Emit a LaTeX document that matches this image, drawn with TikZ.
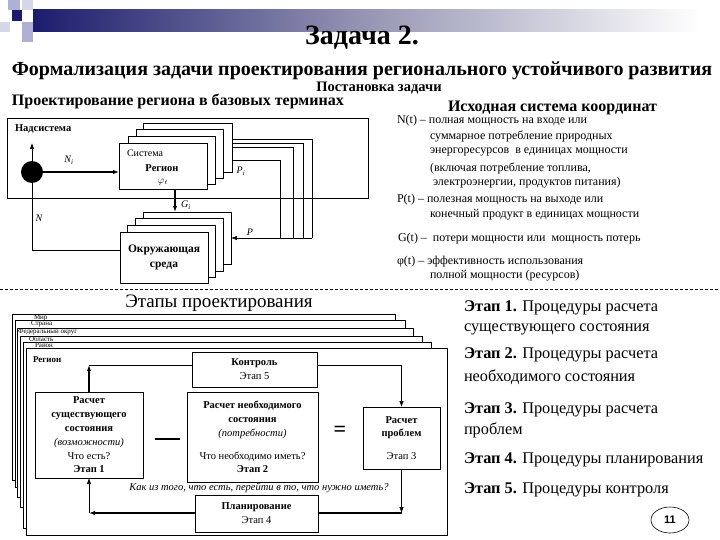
\documentclass[tikz,border=0pt]{standalone}
\usepackage{fontspec}
\setmainfont{Liberation Serif}
\newfontfamily\sansfont{Liberation Sans}
\usetikzlibrary{arrows.meta,calc,shapes.geometric}
\definecolor{navy}{RGB}{28,28,110}
\definecolor{lav}{RGB}{176,176,212}
\definecolor{lavlight}{RGB}{214,214,234}
\begin{document}
\begin{tikzpicture}[x=1pt,y=-1pt,
  every node/.style={inner sep=0pt, outer sep=0pt},
  frame/.style={draw, line width=0.6pt},
  layer/.style={draw, fill=white, line width=0.6pt},
  sbox/.style={draw, fill=white, line width=0.7pt, align=center},
  arrthick/.style={-{Latex[length=6pt,width=4.5pt]}, line width=1.4pt},
  arrthin/.style={-{Latex[length=6pt,width=4.5pt]}, line width=0.6pt},
  thinln/.style={line width=0.6pt},
  thickln/.style={line width=1.4pt},
  legend/.style={anchor=west, font=\fontsize{12}{13}\selectfont},
  etap/.style={anchor=west, font=\fontsize{16.3}{18}\selectfont},
  boxtxt/.style={font=\fontsize{10.5}{13.8}\selectfont},
  lvl/.style={anchor=west, font=\fontsize{7}{8}\selectfont}]
\useasboundingbox (0,0) rectangle (720,540);

% header decoration
\fill[lav] (8,0) rectangle (20,10);
\fill[lavlight] (22,0) rectangle (33,10);
\fill[lavlight] (0,22) rectangle (10,32);
\fill[lav] (22,22) rectangle (33,42);
\fill[navy] (12,10) rectangle (22,21);
\shade[left color=navy, right color=white, middle color={rgb,255:red,150;green,150;blue,180}] (33,10) rectangle (700,32);

% titles
\node (t1) at (362,38) {\fontsize{28}{30}\selectfont\bfseries Задача 2.};
\node (t2) at (362,71) {\fontsize{20}{22}\selectfont\bfseries Формализация задачи проектирования регионального устойчивого развития};
\node (t3) at (379,88) {\fontsize{14.5}{16}\selectfont\bfseries Постановка задачи};
\node[anchor=west] (t4) at (12,101) {\fontsize{16}{18}\selectfont\bfseries Проектирование региона в базовых терминах};
\node[anchor=west] (t5) at (448,108) {\fontsize{16}{18}\selectfont\bfseries Исходная система координат};

% upper diagram
\node[frame, minimum width=361, minimum height=80, anchor=north west] (nad) at (7,118) {};
\node[anchor=west] (nadl) at (15,129) {\fontsize{10.5}{12}\selectfont\bfseries Надсистема};

% feedback lines P
\coordinate (pA) at (312,238);
\draw[thinln] (232,139) -| (pA);
\draw[thinln] (232,143) -| (303,238);
\draw[thinln] (232,147) -| (293,238);
\draw[thinln] (223,160) -| (280,238);

% system stack
\node[layer, minimum width=89, minimum height=49, anchor=north west] (sys4) at (143,123) {};
\node[layer, minimum width=87, minimum height=49, anchor=north west] (sys3) at (136,129) {};
\node[layer, minimum width=87, minimum height=48, anchor=north west] (sys2) at (128,136) {};
\node[layer, minimum width=88, minimum height=46, anchor=north west] (sys) at (119,143) {};
\node[anchor=west] (sysl1) at (127,153) {\fontsize{10}{12}\selectfont Система};
\node (sysl2) at (162,168) {\fontsize{10.5}{12}\selectfont\bfseries Регион};
\node (sysl3) at (163,182) {$\varphi_t$};
\node (pil) at (241,171) {\itshape P\textsubscript{i}};

% environment stack
\node[layer, minimum width=88, minimum height=52, anchor=north west] (env4) at (143,212) {};
\node[layer, minimum width=88, minimum height=53, anchor=north west] (env3) at (135,218) {};
\node[layer, minimum width=88, minimum height=52, anchor=north west] (env2) at (127,225) {};
\node[layer, minimum width=88, minimum height=51, anchor=north west, align=center, font=\fontsize{11.5}{15}\selectfont\bfseries] (env) at (120,232) {Окружающая\\среда};

% source and arrows
\node[circle, fill=black, minimum size=22] (src) at (32,172) {};
\coordinate (upN) at (32,143);
\draw[arrthin] (src.north) -- (upN);
\draw[arrthick] (src.east) -- (sys.west |- src);
\node (nil) at (69,160) {\itshape N\textsubscript{i}};
\coordinate (nc) at (32,250);
\draw[thinln] (src.south) -- (nc) -- (env.west |- nc);
\node (nl) at (39,218) {\itshape N};
\coordinate (gtop) at (175,212);
\draw[arrthick] (sys.south -| gtop) -- (gtop);
\node (gl) at (186,205) {\itshape G\textsubscript{i}};
\draw[arrthin] (pA) -- (env4.east |- pA);
\node (pl) at (250,232) {\itshape P};

% legend
\node[legend] (lg1) at (397,121) {N(t) – полная мощность на входе или};
\node[legend] (lg2) at (430,137) {суммарное потребление природных};
\node[legend] (lg3) at (430,152) {энергоресурсов \ в единицах мощности};
\node[legend] (lg4) at (430,168) {(включая потребление топлива,};
\node[legend] (lg5) at (433,183) {электроэнергии, продуктов питания)};
\node[legend] (lg6) at (397,200) {P(t) – полезная мощность на выходе или};
\node[legend] (lg7) at (430,215) {конечный продукт в единицах мощности};
\node[legend] (lg8) at (398,239) {G(t) – \ потери мощности или \ мощность потерь};
\node[legend] (lg9) at (397,262) {φ(t) – эффективность использования};
\node[legend] (lg10) at (430,276) {полной мощности (ресурсов)};

% dashed separator
\draw[dashed, dash pattern=on 3pt off 2pt, line width=0.9pt] (0,289) -- (720,289);

% lower diagram
\node (etl) at (219,303) {\fontsize{19}{20}\selectfont Этапы проектирования};

\draw[layer] (12,314) rectangle (395,480);
\draw[layer] (15,320) rectangle (405,487);
\draw[layer] (17,328) rectangle (413,497);
\draw[layer] (20,336) rectangle (422,507);
\draw[layer] (23,342) rectangle (431,528);
\draw[layer] (26,348) rectangle (447,535);
\node[lvl] (lv1) at (34,317.5) {Мир};
\node[lvl] (lv2) at (31,324) {Страна};
\node[lvl] (lv3) at (18,331.5) {Федеральный округ};
\node[lvl] (lv4) at (29,339) {Область};
\node[lvl] (lv5) at (35,345.5) {Район};
\node[anchor=west] (lv6) at (33,360) {\fontsize{9}{10}\selectfont\bfseries Регион};

\node[sbox, boxtxt, minimum width=125, minimum height=35, anchor=north west] (ctrl) at (192,352) {\textbf{Контроль}\\Этап 5};
\node[sbox, boxtxt, minimum width=108, minimum height=86, anchor=north west] (box1) at (35,392) {\textbf{Расчет}\\\textbf{существующего}\\\textbf{состояния}\\\textit{(возможности)}\\Что есть?\\\textbf{Этап 1}};
\node[sbox, boxtxt, minimum width=131, minimum height=90, anchor=north west] (box2) at (187,392) {\textbf{Расчет необходимого}\\\textbf{состояния}\\\textit{(потребности)}\\[9pt]Что необходимо иметь?\\\textbf{Этап 2}};
\node[sbox, boxtxt, minimum width=77, minimum height=62, anchor=north west] (box3) at (363,407) {\textbf{Расчет}\\\textbf{проблем}\\[9pt]Этап 3};
\node[sbox, boxtxt, minimum width=123, minimum height=37, anchor=north west] (plan) at (195,495) {\textbf{Планирование}\\Этап 4};

\draw[line width=2pt] (155,439) -- (180,439);
\node (eq) at (340,431) {\fontsize{22}{22}\selectfont\bfseries =};
\node (q) at (259,488) {\fontsize{10.5}{12}\selectfont\itshape Как из того, что есть, перейти в то, что нужно иметь?};

\coordinate (j1) at (89,365);
\coordinate (j2) at (401.5,365);
\coordinate (j3) at (401.5,513);
\coordinate (j4) at (89,513);
\draw[arrthick] (box1.north) -- (j1);
\draw[thinln] (j1) -- (ctrl.west |- j1);
\draw[arrthin] (ctrl.east |- j2) -- (j2) -- (box3.north);
\draw[arrthin] (box3.south) -- (j3);
\draw[thickln] (plan.east |- j3) -- (j3);
\draw[arrthick] (plan.west |- j4) -- (j4);
\draw[arrthin] (j4) -- (box1.south);

% stage list
\node[etap] (e1) at (464,308) {\textbf{Этап 1.} Процедуры расчета};
\node[etap] (e1b) at (464,329) {существующего состояния};
\node[etap] (e2) at (464,355) {\textbf{Этап 2.} Процедуры расчета};
\node[etap] (e2b) at (464,377) {необходимого состояния};
\node[etap] (e3) at (464,410) {\textbf{Этап 3.} Процедуры расчета};
\node[etap] (e3b) at (464,430) {проблем};
\node[etap] (e4) at (464,460) {\textbf{Этап 4.} Процедуры планирования};
\node[etap] (e5) at (464,490) {\textbf{Этап 5.} Процедуры контроля};

\node[draw, ellipse, line width=0.6pt, minimum width=38, minimum height=26] (pg) at (670,520) {\sansfont\bfseries\fontsize{11}{12}\selectfont 11};
\end{tikzpicture}
\end{document}
